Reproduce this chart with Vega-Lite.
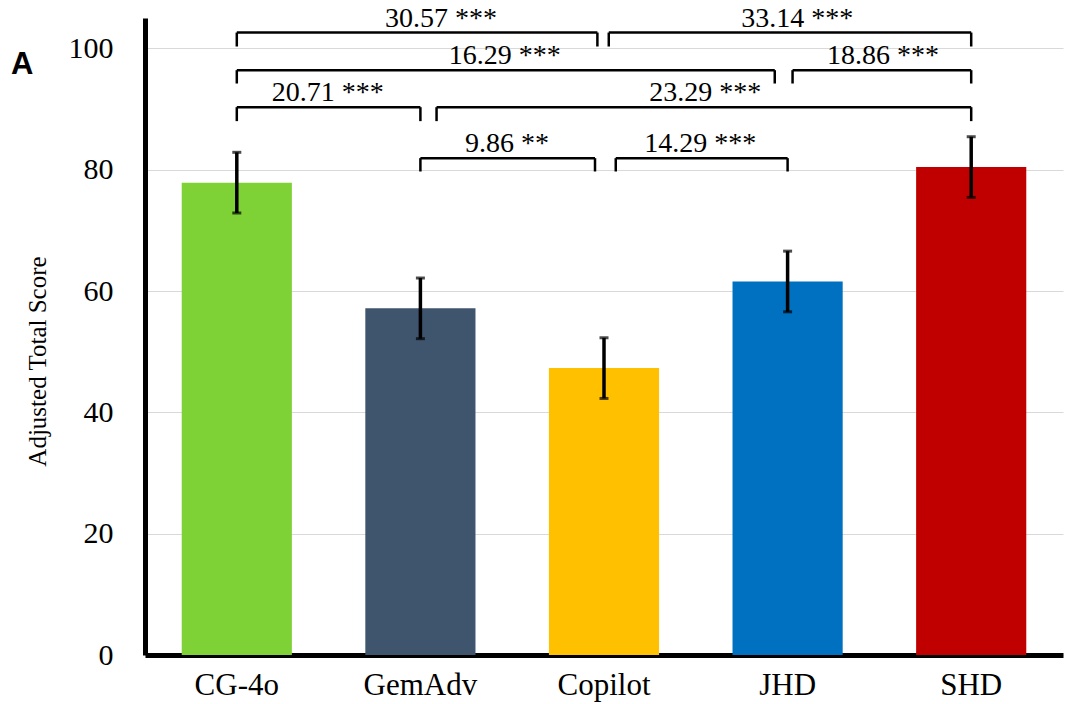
{
  "$schema": "https://vega.github.io/schema/vega-lite/v6.json",
  "width": 918,
  "height": 637,
  "autosize": {"type": "none"},
  "padding": {"left": 145, "top": 18, "right": 8, "bottom": 49},
  "background": "white",
  "title": {"text": "A", "anchor": "start", "frame": "group", "orient": "top", "offset": 0, "dx": -134, "dy": 76, "fontSize": 31, "font": "Liberation Sans", "fontWeight": "bold", "color": "black"},
  "config": {"view": {"stroke": null}, "font": "Liberation Serif"},
  "datasets": {
    "bars": [
      {"model": "CG-4o", "score": 77.86, "lower": 72.86, "upper": 82.86},
      {"model": "GemAdv", "score": 57.14, "lower": 52.14, "upper": 62.14},
      {"model": "Copilot", "score": 47.29, "lower": 42.29, "upper": 52.29},
      {"model": "JHD", "score": 61.57, "lower": 56.57, "upper": 66.57},
      {"model": "SHD", "score": 80.43, "lower": 75.43, "upper": 85.43}
    ],
    "brackets": [
      {"label": "30.57 ***", "x1": 0, "x2": 1.964, "ytop": 102.6, "ybot": 100.3, "tx": 1.112},
      {"label": "33.14 ***", "x1": 2.026, "x2": 4, "ytop": 102.6, "ybot": 100.3, "tx": 3.053},
      {"label": "16.29 ***", "x1": 0, "x2": 2.93, "ytop": 96.4, "ybot": 94.2, "tx": 1.46},
      {"label": "18.86 ***", "x1": 3.027, "x2": 4, "ytop": 96.4, "ybot": 94.2, "tx": 3.52},
      {"label": "20.71 ***", "x1": 0, "x2": 1, "ytop": 90.3, "ybot": 88.0, "tx": 0.496},
      {"label": "23.29 ***", "x1": 1.088, "x2": 4, "ytop": 90.3, "ybot": 88.0, "tx": 2.552},
      {"label": "9.86 **", "x1": 1, "x2": 1.951, "ytop": 81.9, "ybot": 79.7, "tx": 1.471},
      {"label": "14.29 ***", "x1": 2.064, "x2": 3, "ytop": 81.9, "ybot": 79.7, "tx": 2.524}
    ]
  },
  "layer": [
    {
      "data": {"name": "bars"},
      "encoding": {
        "x": {
          "field": "model", "type": "nominal",
          "sort": ["CG-4o", "GemAdv", "Copilot", "JHD", "SHD"],
          "scale": {"paddingInner": 0.4, "paddingOuter": 0.2},
          "axis": {"title": null, "labelAngle": 0, "labelFontSize": 31, "labelColor": "black", "labelPadding": 15, "ticks": false, "domainColor": "black", "domainWidth": 5, "labelFont": "Liberation Serif"}
        }
      },
      "layer": [
        {
          "mark": {"type": "bar"},
          "encoding": {
            "y": {
              "field": "score", "type": "quantitative",
              "scale": {"domain": [0, 105], "nice": false},
              "axis": {"values": [0, 20, 40, 60, 80, 100], "title": "Adjusted Total Score", "titleFontSize": 25, "titleFontWeight": "normal", "titleColor": "black", "titleFont": "Liberation Serif", "titlePadding": 18, "titleY": 343, "labelFontSize": 30, "labelColor": "black", "labelFont": "Liberation Serif", "labelPadding": 32, "ticks": false, "domainColor": "black", "domainWidth": 5, "grid": true, "gridColor": "#d9d9d9", "gridWidth": 1}
            },
            "color": {
              "field": "model", "type": "nominal",
              "scale": {"domain": ["CG-4o", "GemAdv", "Copilot", "JHD", "SHD"], "range": ["#7fd236", "#3f546d", "#ffc000", "#0070c0", "#c00000"]},
              "legend": null
            }
          }
        },
        {
          "mark": {"type": "rule", "color": "black", "strokeWidth": 3.5},
          "encoding": {
            "y": {"field": "lower", "type": "quantitative"},
            "y2": {"field": "upper"}
          }
        },
        {
          "mark": {"type": "tick", "color": "black", "size": 9, "thickness": 3},
          "encoding": {"y": {"field": "lower", "type": "quantitative"}}
        },
        {
          "mark": {"type": "tick", "color": "black", "size": 9, "thickness": 3},
          "encoding": {"y": {"field": "upper", "type": "quantitative"}}
        }
      ]
    },
    {
      "data": {"name": "brackets"},
      "layer": [
        {
          "mark": {"type": "rule", "color": "black", "strokeWidth": 2.5},
          "encoding": {
            "x": {"field": "x1", "type": "quantitative", "scale": {"domain": [-0.5, 4.5], "nice": false, "zero": false}, "axis": null},
            "x2": {"field": "x2"},
            "y": {"field": "ytop", "type": "quantitative"}
          }
        },
        {
          "mark": {"type": "rule", "color": "black", "strokeWidth": 2.5},
          "encoding": {
            "x": {"field": "x1", "type": "quantitative", "axis": null},
            "y": {"field": "ybot", "type": "quantitative"},
            "y2": {"field": "ytop"}
          }
        },
        {
          "mark": {"type": "rule", "color": "black", "strokeWidth": 2.5},
          "encoding": {
            "x": {"field": "x2", "type": "quantitative", "axis": null},
            "y": {"field": "ybot", "type": "quantitative"},
            "y2": {"field": "ytop"}
          }
        },
        {
          "mark": {"type": "text", "color": "black", "fontSize": 28, "font": "Liberation Serif", "baseline": "alphabetic", "align": "center", "dy": -6},
          "encoding": {
            "x": {"field": "tx", "type": "quantitative", "axis": null},
            "y": {"field": "ytop", "type": "quantitative"},
            "text": {"field": "label"}
          }
        }
      ]
    }
  ],
  "resolve": {"scale": {"x": "independent"}}
}
